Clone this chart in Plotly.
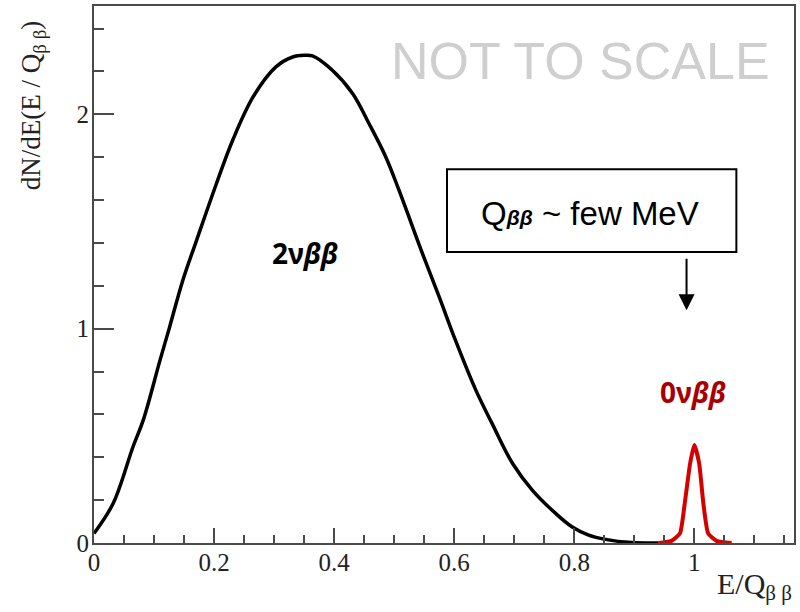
import plotly.graph_objects as go

# 2-neutrino double beta spectrum
e2nu = [0.0, 0.032, 0.065, 0.082, 0.110, 0.126, 0.148, 0.171, 0.204, 0.231, 0.265, 0.303,
        0.331, 0.350, 0.364, 0.397, 0.431, 0.458, 0.486, 0.508, 0.547, 0.575, 0.602, 0.636,
        0.663, 0.697, 0.730, 0.769, 0.796, 0.824, 0.852, 0.896, 0.940]
n2nu = [0.045, 0.185, 0.449, 0.573, 0.853, 1.008, 1.226, 1.413, 1.677, 1.879, 2.081, 2.221,
        2.267, 2.275, 2.272, 2.205, 2.096, 1.957, 1.801, 1.646, 1.351, 1.148, 0.946, 0.713,
        0.558, 0.372, 0.247, 0.138, 0.076, 0.037, 0.017, 0.002, 0.0]

# neutrinoless peak
e0nu = [0.940, 0.962, 0.976, 0.984, 0.993, 1.000, 1.008, 1.015, 1.023, 1.037, 1.062]
n0nu = [0.0, 0.010, 0.045, 0.185, 0.372, 0.457, 0.372, 0.185, 0.045, 0.010, 0.0]

x_range = [0, 1.166]
y_range = [0, 2.505]

AX = "#4a4a4a"
SERIF = "Liberation Serif"

fig = go.Figure()
fig.add_trace(go.Scatter(x=e2nu, y=n2nu, mode="lines",
                         line=dict(color="black", width=3.5, shape="spline", smoothing=1.0),
                         hoverinfo="skip", showlegend=False))
fig.add_trace(go.Scatter(x=e0nu, y=n0nu, mode="lines",
                         line=dict(color="#d40000", width=4, shape="spline", smoothing=0.5),
                         hoverinfo="skip", showlegend=False))

# box around Q annotation
fig.add_shape(type="rect", xref="x", yref="y", x0=0.588, x1=1.070, y0=1.357, y1=1.744,
              line=dict(color="black", width=2), fillcolor="white", layer="above")

ann = [
    dict(x=0.811, y=2.247, text="NOT TO SCALE", showarrow=False,
         font=dict(family="Liberation Sans", size=52, color="#cfcfcf")),
    dict(x=0.826, y=1.538, showarrow=False,
         text="Q<span style='font-size:21px'><b><i>ββ</i></b></span> ~ few MeV",
         font=dict(family="Liberation Sans", size=33, color="black")),
    dict(x=0.987, y=1.086, ax=0.987, ay=1.333, axref="x", ayref="y", text="",
         showarrow=True, arrowhead=2, arrowsize=1.6, arrowwidth=2, arrowcolor="black"),
    dict(x=0.352, y=1.352, text="<b>2ν<i>ββ</i></b>", showarrow=False,
         font=dict(family="Noto Sans", size=28, color="black")),
    dict(x=0.998, y=0.704, text="<b>0ν<i>ββ</i></b>", showarrow=False,
         font=dict(family="Noto Sans", size=28, color="#a80000")),
    dict(xref="paper", yref="paper", x=-0.086, y=0.815, textangle=-90,
         text="dN/dE(E / Q<sub>β β</sub>)", showarrow=False,
         xanchor="center", yanchor="middle",
         font=dict(family=SERIF, size=27, color="#222")),
    dict(xref="paper", yref="paper", x=1.0, y=-0.08, text="E/Q<sub>β β</sub>",
         showarrow=False, xanchor="right", yanchor="middle",
         font=dict(family=SERIF, size=30, color="#222")),
]
for a in ann:
    a.setdefault("xref", "x")
    a.setdefault("yref", "y")
    fig.add_annotation(**a)

fig.update_xaxes(range=x_range, dtick=0.2, tick0=0, ticks="inside", ticklen=15, tickwidth=2,
                 tickcolor=AX, showline=True, mirror=True, linecolor=AX, linewidth=2,
                 showgrid=False, zeroline=False, ticklabelstandoff=-4,
                 tickfont=dict(family=SERIF, size=25, color="#222"),
                 minor=dict(dtick=0.05, ticks="inside", ticklen=8, tickwidth=2, tickcolor=AX,
                            showgrid=False))
fig.update_yaxes(range=y_range, dtick=1, tick0=0, ticks="inside", ticklen=20, tickwidth=2,
                 tickcolor=AX, showline=True, mirror=True, linecolor=AX, linewidth=2,
                 showgrid=False, zeroline=False, ticklabelstandoff=-2,
                 tickfont=dict(family=SERIF, size=25, color="#222"),
                 minor=dict(dtick=0.2, ticks="inside", ticklen=10, tickwidth=2, tickcolor=AX,
                            showgrid=False))

fig.update_layout(width=800, height=612, margin=dict(l=94, r=4, t=6, b=69),
                  plot_bgcolor="white", paper_bgcolor="white", showlegend=False)

fig.write_html("out.html")
